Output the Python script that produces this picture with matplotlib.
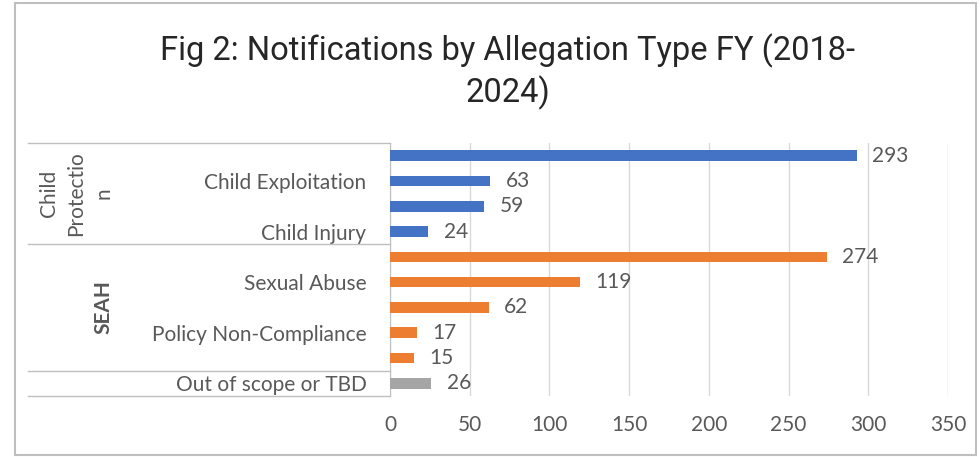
import matplotlib.pyplot as plt
from matplotlib.patches import Rectangle

# Allegation data (only every other category name is shown on the axis)
categories = ["", "Child Exploitation", "", "Child Injury",
              "", "Sexual Abuse", "", "Policy Non-Compliance", "",
              "Out of scope or TBD"]
counts = [293, 63, 59, 24, 274, 119, 62, 17, 15, 26]
groups = ["Child\nProtectio\nn", "SEAH", ""]
group_sizes = [4, 5, 1]
group_colors = ["#4472C4", "#ED7D31", "#A5A5A5"]
x_ticks = [0, 50, 100, 150, 200, 250, 300, 350]

text_col = "#595959"
grid_col = "#D9D9D9"
fs = 15

fig = plt.figure(figsize=(9.8, 4.57), dpi=100)
ax = fig.add_axes([390 / 980, 1 - 396 / 457, 558 / 980, 253 / 457])

colors = []
for col, n in zip(group_colors, group_sizes):
    colors += [col] * n

ypos = list(range(len(counts)))
bars = ax.barh(ypos, counts, height=0.42, color=colors, zorder=3)
for rect, v in zip(bars, counts):
    ax.annotate(str(v), (rect.get_width(), rect.get_y() + rect.get_height() / 2),
                xytext=(11, 0), textcoords="offset points", va="center",
                ha="left", fontsize=fs, color=text_col, family="Lato")

ax.set_xlim(0, 350)
ax.set_ylim(len(counts) - 0.5, -0.5)
ax.set_xticks(x_ticks)
ax.set_yticks(ypos)
ax.set_yticklabels(categories)
ax.tick_params(axis="y", length=0, pad=17, labelsize=fs, labelcolor=text_col)
ax.tick_params(axis="x", length=0, pad=14, labelsize=fs, labelcolor=text_col)
for lab in ax.get_xticklabels() + ax.get_yticklabels():
    lab.set_family("Lato")
ax.grid(axis="x", color=grid_col, lw=1, zorder=0)
for side in ["top", "right", "bottom"]:
    ax.spines[side].set_visible(False)
ax.spines["left"].set_color("#BFBFBF")

# group boxes to the left of the category labels
tr = ax.get_yaxis_transform()
left = -0.649
bounds = [-0.5]
for n in group_sizes:
    bounds.append(bounds[-1] + n)
for b in bounds:
    ax.plot([left, 0], [b, b], transform=tr, color="#BFBFBF", lw=1,
            clip_on=False)

group_x = [-0.562, -0.513, -0.513]
for g, gx, lo, hi in zip(groups, group_x, bounds[:-1], bounds[1:]):
    if g:
        ax.text(gx, (lo + hi) / 2, g, transform=tr, rotation=90,
                ha="center", va="center", fontsize=fs, color=text_col,
                family="Lato", linespacing=1.45,
                fontweight="bold" if g == "SEAH" else "normal")

title_font = ["Roboto", "DejaVu Sans"]
fig.text(0.518, 1 - 51 / 457, "Fig 2: Notifications by Allegation Type FY (2018-",
         ha="center", va="center", fontsize=23.5, color="#262626",
         family=title_font)
fig.text(0.518, 1 - 93 / 457, "2024)", ha="center", va="center",
         fontsize=23.5, color="#262626", family=title_font)

# outer chart frame
fig.add_artist(Rectangle((15 / 980, 2 / 457), 961 / 980, 452 / 457,
                         transform=fig.transFigure, fill=False,
                         edgecolor="#BFBFBF", lw=1.5))

fig.savefig("out.png", dpi=100, facecolor="white")
